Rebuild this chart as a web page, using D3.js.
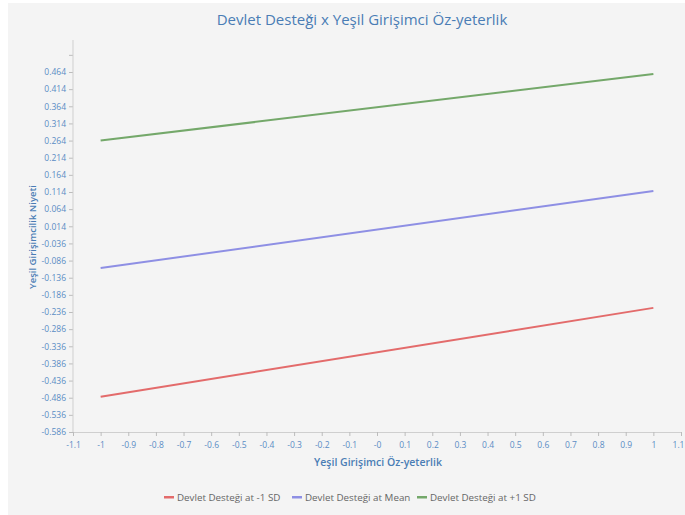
<!DOCTYPE html>
<html>
<head>
<meta charset="utf-8">
<script src="https://cdn.jsdelivr.net/npm/d3@7"></script>
<style>
  html, body { margin: 0; padding: 0; background: #ffffff; }
  #chart { width: 685px; height: 515px; }
</style>
</head>
<body>
<div id="chart"></div>
<script>
var xValues = [-1, 1];
var seriesNames = ['Devlet Desteği at -1 SD', 'Devlet Desteği at Mean', 'Devlet Desteği at +1 SD'];
var lowValues = [-0.483, -0.224];
var meanValues = [-0.108, 0.117];
var highValues = [0.264, 0.458];
var xTicks = [-1.1, -1, -0.9, -0.8, -0.7, -0.6, -0.5, -0.4, -0.3, -0.2, -0.1, 0, 0.1, 0.2, 0.3, 0.4, 0.5, 0.6, 0.7, 0.8, 0.9, 1, 1.1];
var xTickLabels = ['-1.1', '-1', '-0.9', '-0.8', '-0.7', '-0.6', '-0.5', '-0.4', '-0.3', '-0.2', '-0.1', '-0', '0.1', '0.2', '0.3', '0.4', '0.5', '0.6', '0.7', '0.8', '0.9', '1', '1.1'];
var yTicks = [0.514, 0.464, 0.414, 0.364, 0.314, 0.264, 0.214, 0.164, 0.114, 0.064, 0.014, -0.036, -0.086, -0.136, -0.186, -0.236, -0.286, -0.336, -0.386, -0.436, -0.486, -0.536, -0.586];
var yTickLabels = ['', '0.464', '0.414', '0.364', '0.314', '0.264', '0.214', '0.164', '0.114', '0.064', '0.014', '-0.036', '-0.086', '-0.136', '-0.186', '-0.236', '-0.286', '-0.336', '-0.386', '-0.436', '-0.486', '-0.536', '-0.586'];

var colors = ['#e36b6b', '#8e8fe4', '#74a86a'];
var series = [lowValues, meanValues, highValues];

var width = 685, height = 515;
var blue = '#4a7db5';
var fontFam = '"Open Sans", "Noto Sans", sans-serif';

var svg = d3.select('#chart').append('svg')
  .attr('width', width)
  .attr('height', height);

svg.append('rect')
  .attr('x', 8).attr('y', 3)
  .attr('width', width - 8).attr('height', height - 3)
  .attr('fill', '#f4f4f4');

var x = d3.scaleLinear().domain([-1.1, 1.1]).range([73, 681]);
var y = d3.scaleLinear().domain([-0.586, 0.464]).range([432, 72]);
var yTop = y.invert(40);

// title
svg.append('text')
  .attr('x', 362).attr('y', 25)
  .attr('text-anchor', 'middle')
  .attr('fill', blue)
  .style('font-family', fontFam)
  .style('font-size', '15px')
  .text('Devlet Desteği x Yeşil Girişimci Öz-yeterlik');

// y axis
var yAxis = d3.axisLeft(y)
  .tickValues(yTicks)
  .tickSize(4)
  .tickFormat(function(d, i) { return yTickLabels[i]; });
var gy = svg.append('g')
  .attr('transform', 'translate(' + x(-1.1) + ',0)')
  .call(yAxis);
gy.select('.domain').remove();
gy.append('line')
  .attr('x1', 0).attr('x2', 0)
  .attr('y1', y(yTop)).attr('y2', y(-0.586))
  .attr('stroke', '#cfcfcf');
gy.selectAll('.tick line').attr('stroke', '#bcbcbc');
gy.selectAll('.tick text')
  .attr('fill', '#5a8cc4')
  .style('font-family', fontFam)
  .style('font-size', '8.5px');

// x axis
var xAxis = d3.axisBottom(x)
  .tickValues(xTicks)
  .tickSize(4)
  .tickFormat(function(d, i) { return xTickLabels[i]; });
var gx = svg.append('g')
  .attr('transform', 'translate(0,' + y(-0.586) + ')')
  .call(xAxis);
gx.select('.domain').attr('stroke', '#cfcfcf');
gx.selectAll('.tick line').attr('stroke', '#bcbcbc');
gx.selectAll('.tick text')
  .attr('fill', '#5a8cc4')
  .attr('dy', '1em')
  .attr('dx', function(d, i) { return i === xTicks.length - 1 ? -3 : 0; })
  .style('font-family', fontFam)
  .style('font-size', '8.5px');

// axis titles
svg.append('text')
  .attr('x', 378).attr('y', 466)
  .attr('text-anchor', 'middle')
  .attr('fill', blue)
  .style('font-family', fontFam)
  .style('font-size', '10.5px')
  .style('font-weight', '600')
  .text('Yeşil Girişimci Öz-yeterlik');

svg.append('text')
  .attr('transform', 'translate(36,237) rotate(-90)')
  .attr('text-anchor', 'middle')
  .attr('fill', blue)
  .style('font-family', fontFam)
  .style('font-size', '9.5px')
  .style('font-weight', '600')
  .text('Yeşil Girişimcilik Niyeti');

// lines
var line = d3.line()
  .x(function(d, i) { return x(xValues[i]); })
  .y(function(d) { return y(d); });

svg.selectAll('.series')
  .data(series)
  .enter()
  .append('path')
  .attr('class', 'series')
  .attr('d', line)
  .attr('fill', 'none')
  .attr('stroke', function(d, i) { return colors[i]; })
  .attr('stroke-width', 2);

// legend
var legendX = [164, 292, 417];
var legend = svg.selectAll('.legend')
  .data(seriesNames)
  .enter()
  .append('g')
  .attr('class', 'legend')
  .attr('transform', function(d, i) { return 'translate(' + legendX[i] + ',497)'; });
legend.append('rect')
  .attr('x', 0).attr('y', -1)
  .attr('width', 10).attr('height', 2.5)
  .attr('fill', function(d, i) { return colors[i]; });
legend.append('text')
  .attr('x', 13).attr('y', 3.5)
  .attr('fill', '#666666')
  .style('font-family', fontFam)
  .style('font-size', '9.8px')
  .text(function(d) { return d; });
</script>
</body>
</html>
